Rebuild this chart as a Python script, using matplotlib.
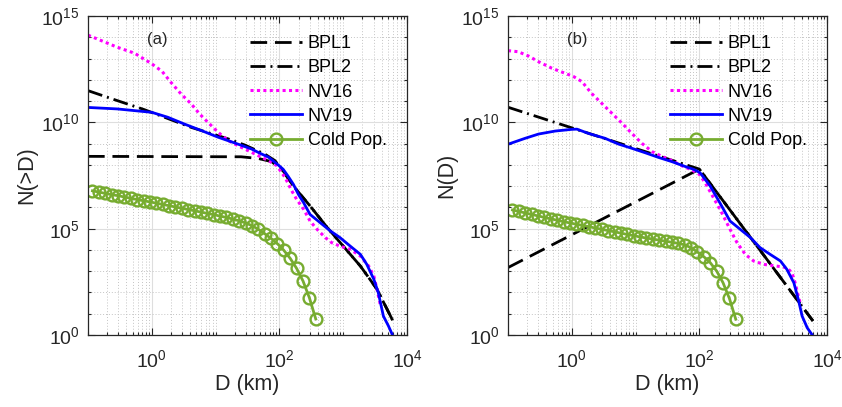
import numpy as np
import matplotlib
matplotlib.use('Agg')
import matplotlib.pyplot as plt
from matplotlib.ticker import FixedLocator, FixedFormatter, NullFormatter

plt.rcParams['font.family'] = ['Liberation Sans', 'DejaVu Sans']
plt.rcParams['mathtext.fontset'] = 'custom'
plt.rcParams['mathtext.rm'] = 'Liberation Sans'
plt.rcParams['mathtext.default'] = 'regular'

# All values are log10(D [km]) and log10(N)

# (a) cumulative distributions N(>D)
bpl1_a_logd = [-1.0, 1.40, 1.67, 1.88, 2.06, 2.22, 2.48, 2.74, 3.0, 3.27, 3.53, 3.78]
bpl1_a_logn = [8.4, 8.38, 8.3, 8.15, 7.71, 7.0, 6.07, 5.09, 4.18, 3.24, 2.15, 0.66]

bpl2_a_logd = [-1.0, -0.54, -0.12, 0.62, 1.20, 1.46, 1.77, 1.93, 2.06, 2.22, 2.48,
               2.74, 3.0, 3.27, 3.53, 3.78]
bpl2_a_logn = [11.49, 11.02, 10.6, 9.76, 9.22, 8.93, 8.51, 8.2, 7.71, 7.0, 6.07,
               5.09, 4.18, 3.24, 2.15, 0.66]

nv16_a_logd = [-1.0, -0.54, -0.27, 0.0, 0.16, 0.30, 0.46, 0.62, 0.75, 0.88, 1.04,
               1.20, 1.35, 1.51, 1.67, 1.83, 1.96, 2.09, 2.19, 2.27, 2.38, 2.48,
               2.59, 2.72, 2.82, 2.95, 3.11, 3.27, 3.40, 3.48, 3.53, 3.58]
nv16_a_logn = [14.1, 13.53, 13.25, 12.75, 12.4, 11.88, 11.33, 10.86, 10.39, 10.0,
               9.53, 9.14, 8.9, 8.67, 8.43, 8.2, 7.96, 7.4, 6.8, 6.38, 5.91, 5.36,
               4.97, 4.58, 4.34, 4.18, 4.03, 3.71, 3.24, 2.77, 2.15, 1.44]

nv19_a_logd = [-1.0, -0.54, 0.0, 0.25, 0.51, 0.78, 1.04, 1.30, 1.56, 1.70, 1.83,
               1.98, 2.06, 2.14, 2.22, 2.30, 2.38, 2.48, 2.64, 2.80, 2.95, 3.11,
               3.27, 3.37, 3.48, 3.55, 3.63, 3.71, 3.78]
nv19_a_logn = [10.7, 10.63, 10.47, 10.24, 9.92, 9.61, 9.3, 9.03, 8.75, 8.54, 8.36,
               8.0, 7.79, 7.45, 7.08, 6.6, 6.22, 5.67, 5.28, 4.89, 4.58, 4.18,
               3.79, 3.32, 2.62, 1.99, 0.89, 0.42, -0.05]

# (b) differential distributions N(D)
bpl1_b_logd = [-1.0, 2.0, 3.78]
bpl1_b_logn = [3.17, 7.8, 0.66]

bpl2_b_logd = [-1.0, 2.0, 3.78]
bpl2_b_logn = [10.71, 7.8, 0.66]

nv16_b_logd = [-1.0, -0.84, -0.68, -0.52, -0.31, -0.10, 0.03, 0.16, 0.31, 0.47,
               0.63, 0.79, 0.94, 1.10, 1.26, 1.42, 1.57, 1.73, 1.89, 2.0, 2.09,
               2.22, 2.35, 2.48, 2.59, 2.72, 2.85, 3.01, 3.21, 3.37, 3.45, 3.50,
               3.55, 3.58]
nv16_b_logn = [13.37, 13.32, 13.12, 12.85, 12.54, 12.3, 12.15, 11.91, 11.36, 10.89,
               10.42, 9.95, 9.48, 9.01, 8.62, 8.39, 8.2, 7.95, 7.75, 7.55, 7.16,
               6.46, 5.75, 4.97, 4.34, 3.79, 3.48, 3.32, 3.24, 3.17, 2.93, 2.46,
               1.83, 1.5]

nv19_b_logd = [-1.0, -0.73, -0.52, -0.26, 0.0, 0.08, 0.26, 0.52, 0.73, 0.94, 1.15,
               1.36, 1.57, 1.78, 1.91, 2.01, 2.17, 2.32, 2.48, 2.64, 2.80, 2.95,
               3.11, 3.27, 3.37, 3.48, 3.55, 3.61, 3.69, 3.78]
nv19_b_logn = [8.97, 9.25, 9.45, 9.59, 9.67, 9.68, 9.48, 9.25, 8.98, 8.78, 8.57,
               8.35, 8.15, 7.92, 7.79, 7.63, 7.0, 6.22, 5.36, 4.97, 4.58, 4.11,
               3.79, 3.48, 3.09, 2.46, 1.68, 0.89, 0.34, -0.05]

# Cold classical population (same diameters in both panels)
cold_logd = [-0.93, -0.83, -0.73, -0.63, -0.53, -0.43, -0.33, -0.23, -0.13, -0.03,
             0.07, 0.17, 0.27, 0.37, 0.47, 0.57, 0.67, 0.77, 0.87, 0.97,
             1.07, 1.17, 1.27, 1.37, 1.47, 1.57, 1.67, 1.77, 1.87, 1.97,
             2.07, 2.17, 2.27, 2.37, 2.47, 2.57]
cold_a_logn = [6.78, 6.72, 6.66, 6.60, 6.55, 6.49, 6.43, 6.37, 6.31, 6.26,
               6.20, 6.14, 6.08, 6.02, 5.96, 5.90, 5.84, 5.78, 5.72, 5.66,
               5.59, 5.53, 5.45, 5.37, 5.27, 5.14, 4.97, 4.76, 4.54, 4.29,
               3.98, 3.60, 3.13, 2.54, 1.75, 0.75]
cold_b_logn = [5.88, 5.81, 5.74, 5.67, 5.60, 5.53, 5.46, 5.40, 5.33, 5.27,
               5.21, 5.15, 5.09, 5.03, 4.97, 4.91, 4.85, 4.79, 4.73, 4.67,
               4.61, 4.56, 4.51, 4.46, 4.41, 4.36, 4.31, 4.24, 4.10, 3.90,
               3.68, 3.40, 3.01, 2.46, 1.72, 0.74]

panels = [
    dict(tag='(a)', ylabel='N(>D)',
         bpl1=(bpl1_a_logd, bpl1_a_logn), bpl2=(bpl2_a_logd, bpl2_a_logn),
         nv16=(nv16_a_logd, nv16_a_logn), nv19=(nv19_a_logd, nv19_a_logn),
         cold=(cold_logd, cold_a_logn)),
    dict(tag='(b)', ylabel='N(D)',
         bpl1=(bpl1_b_logd, bpl1_b_logn), bpl2=(bpl2_b_logd, bpl2_b_logn),
         nv16=(nv16_b_logd, nv16_b_logn), nv19=(nv19_b_logd, nv19_b_logn),
         cold=(cold_logd, cold_b_logn)),
]

GREEN = '#77AC30'
INK = '#262626'


def pow10(pair):
    return 10.0 ** np.array(pair[0]), 10.0 ** np.array(pair[1])


fig = plt.figure(figsize=(8.42, 4.07), dpi=100)
lefts = [88 / 842, 508 / 842]

for left, p in zip(lefts, panels):
    ax = fig.add_axes([left, 72 / 407, 319 / 842, 319 / 407])
    ax.set_xscale('log')
    ax.set_yscale('log')

    ax.plot(*pow10(p['bpl1']), color='k', lw=2, dashes=(6, 2.8), label='BPL1')
    ax.plot(*pow10(p['bpl2']), color='k', lw=2, dashes=(5.4, 1.8, 0.7, 1.8),
            label='BPL2')
    ax.plot(*pow10(p['nv16']), color='#FF00FF', lw=2.2, dashes=(1, 1.1),
            dash_capstyle='butt', label='NV16')
    ax.plot(*pow10(p['nv19']), color='#0000FF', lw=2, label='NV19')
    ax.plot(*pow10(p['cold']), color=GREEN, lw=2, marker='o', ms=8.5,
            mfc='none', mew=1.7, label='Cold Pop.')

    ax.set_xlim(1e-1, 1e4)
    ax.set_ylim(1e0, 1e15)

    ax.xaxis.set_major_locator(FixedLocator([1e0, 1e2, 1e4]))
    ax.xaxis.set_major_formatter(FixedFormatter(['$10^{0}$', '$10^{2}$', '$10^{4}$']))
    xminor = [m * 10.0 ** e for e in range(-1, 4) for m in range(1, 10)
              if not (m == 1 and e % 2 == 0)]
    ax.xaxis.set_minor_locator(FixedLocator(xminor))
    ax.xaxis.set_minor_formatter(NullFormatter())

    ax.yaxis.set_major_locator(FixedLocator([1e0, 1e5, 1e10, 1e15]))
    ax.yaxis.set_major_formatter(FixedFormatter(['$10^{0}$', '$10^{5}$',
                                                 '$10^{10}$', '$10^{15}$']))
    ax.yaxis.set_minor_locator(FixedLocator([10.0 ** e for e in range(16) if e % 5]))
    ax.yaxis.set_minor_formatter(NullFormatter())

    ax.grid(True, which='major', color='#dedede', lw=0.8, ls='-')
    ax.grid(True, which='minor', color='#c4c4c4', lw=0.7, ls=(0, (1, 2)))
    ax.set_axisbelow(True)

    ax.tick_params(which='both', direction='in', top=True, right=True,
                   colors=INK, labelsize=14, width=0.8)
    ax.tick_params(which='major', length=5)
    ax.tick_params(which='minor', length=2.5)
    ax.tick_params(axis='x', which='major', pad=10)
    ax.tick_params(axis='y', which='major', pad=6)
    for s in ax.spines.values():
        s.set_color(INK)
        s.set_linewidth(0.9)

    ax.set_xlabel('D (km)', fontsize=15.5, color=INK, labelpad=2)
    ax.set_ylabel(p['ylabel'], fontsize=15.5, color=INK, labelpad=3)
    ax.text(0.216, 0.925, p['tag'], transform=ax.transAxes, fontsize=12,
            color=INK, ha='center', va='center')

    ax.legend(loc='upper left', bbox_to_anchor=(0.508, 0.94), frameon=False,
              fontsize=13, handlelength=2.9, handletextpad=0.3,
              labelspacing=0.4, borderpad=0, borderaxespad=0, numpoints=1)

fig.savefig('out.png', dpi=100)
